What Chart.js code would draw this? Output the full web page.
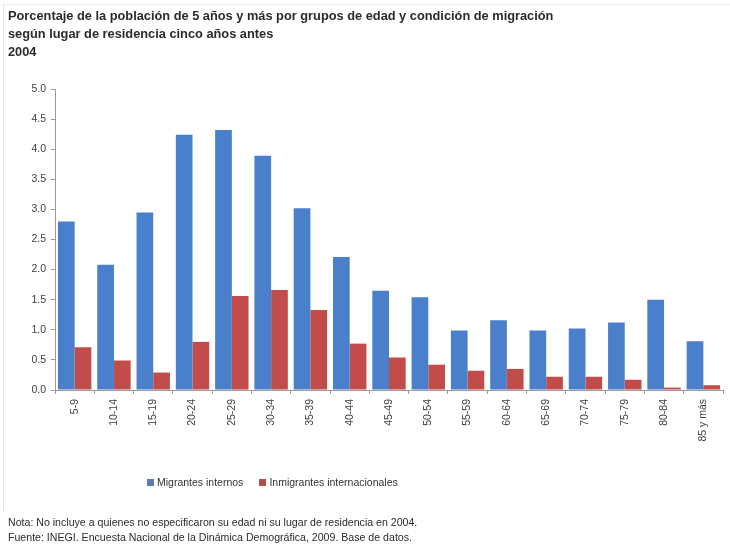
<!DOCTYPE html>
<html>
<head>
<meta charset="utf-8">
<script src="https://cdn.jsdelivr.net/npm/chart.js@4/dist/chart.umd.min.js"></script>
<style>
  html, body { margin: 0; padding: 0; background: #fff; }
  body { width: 730px; height: 553px; position: relative; overflow: hidden; font-family: "Liberation Sans", Arial, sans-serif; }
  #frame { position: absolute; left: 3px; top: 4px; width: 740px; height: 506px; border-left: 1px solid #e4e4e4; border-top: 1px solid #eeeeee; }
  #wrap { position: absolute; left: 0; top: 0; width: 730px; height: 553px; }
  #title { position: absolute; left: 8px; top: 7px; font-weight: bold; font-size: 12.8px; line-height: 18px; color: #2b2b2b; white-space: nowrap; }
  #legend { position: absolute; left: 147px; top: 476px; font-size: 10.5px; color: #333; white-space: nowrap; }
  #legend span.item { display: inline-block; margin-right: 16px; }
  #legend span.box { display: inline-block; width: 7px; height: 7px; margin-right: 3px; vertical-align: 0px; }
  #notes { position: absolute; left: 8px; top: 515px; font-size: 10.6px; line-height: 15px; color: #2b2b2b; white-space: nowrap; }
</style>
</head>
<body>
<div id="frame"></div>
<div id="wrap"><canvas id="c" width="730" height="553"></canvas></div>
<div id="title">Porcentaje de la población de 5 años y más por grupos de edad y condición de migración<br>según lugar de residencia cinco años antes<br>2004</div>
<div id="legend"></div>
<div id="notes">Nota: No incluye a quienes no especificaron su edad ni su lugar de residencia en 2004.<br>Fuente: INEGI. Encuesta Nacional de la Dinámica Demográfica, 2009. Base de datos.</div>
<script>
const categories = ["5-9","10-14","15-19","20-24","25-29","30-34","35-39","40-44","45-49","50-54","55-59","60-64","65-69","70-74","75-79","80-84","85 y más"];
const migrantesInternos = [2.80, 2.08, 2.95, 4.24, 4.32, 3.89, 3.02, 2.21, 1.65, 1.54, 0.99, 1.16, 0.99, 1.02, 1.12, 1.50, 0.81];
const inmigrantesInternacionales = [0.71, 0.49, 0.29, 0.80, 1.56, 1.66, 1.33, 0.77, 0.54, 0.42, 0.32, 0.35, 0.22, 0.22, 0.17, 0.04, 0.08];
const seriesNames = ["Migrantes internos", "Inmigrantes internacionales"];
const yTicks = [0, 0.5, 1, 1.5, 2, 2.5, 3, 3.5, 4, 4.5, 5];

const colors = ["#4A7FCB", "#C24C49"];
const legendColors = ["#5B7BB8", "#B0504E"];

const legend = document.getElementById('legend');
seriesNames.forEach((n, i) => {
  const s = document.createElement('span');
  s.className = 'item';
  s.innerHTML = '<span class="box" style="background:' + legendColors[i] + '"></span>' + n;
  legend.appendChild(s);
});

new Chart(document.getElementById('c'), {
  type: 'bar',
  data: {
    labels: categories,
    datasets: [
      { label: seriesNames[0], data: migrantesInternos, backgroundColor: colors[0], borderWidth: 0 },
      { label: seriesNames[1], data: inmigrantesInternacionales, backgroundColor: colors[1], borderWidth: 0 }
    ]
  },
  options: {
    responsive: false,
    animation: false,
    devicePixelRatio: 1,
    layout: { padding: { left: 0, right: 7, top: 89, bottom: 103 } },
    datasets: { bar: { categoryPercentage: 0.85, barPercentage: 1.0 } },
    plugins: { legend: { display: false }, tooltip: { enabled: false }, title: { display: false } },
    scales: {
      x: {
        offset: true,
        grid: { display: true, offset: true, drawOnChartArea: false, drawTicks: true, tickLength: 4, color: '#9a9a9a' },
        border: { display: true, color: '#9a9a9a', width: 1 },
        ticks: { minRotation: 90, maxRotation: 90, autoSkip: false, padding: 5, color: '#404040', font: { family: '"Liberation Sans", Arial, sans-serif', size: 10.5 } },
        afterFit: (s) => { s.height = 60; }
      },
      y: {
        min: 0, max: 5,
        afterBuildTicks: (s) => { s.ticks = yTicks.map(v => ({ value: v })); },
        grid: { display: true, drawOnChartArea: false, drawTicks: true, tickLength: 4, color: '#9a9a9a' },
        border: { display: true, color: '#9a9a9a', width: 1 },
        ticks: { padding: 5, color: '#404040', font: { family: '"Liberation Sans", Arial, sans-serif', size: 10.5 }, callback: (v) => Number(v).toFixed(1) },
        afterFit: (s) => { s.width = 55; }
      }
    }
  }
});
</script>
</body>
</html>
